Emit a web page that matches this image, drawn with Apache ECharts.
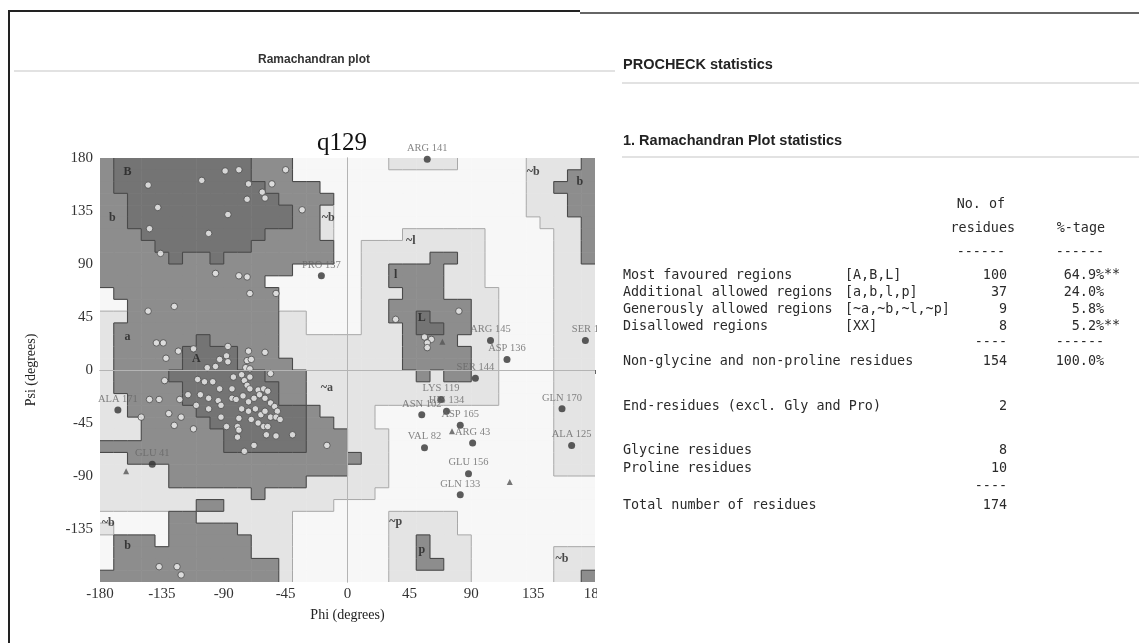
<!DOCTYPE html>
<html>
<head>
<meta charset="utf-8">
<script src="https://cdn.jsdelivr.net/npm/echarts@6/dist/echarts.min.js"></script>
<style>
  html, body { margin: 0; padding: 0; background: #fff; }
  #plot { position: absolute; left: 0; top: 0; width: 597px; height: 643px; }
  #stats { position: absolute; left: 597px; top: 0; width: 542px; height: 643px; }
</style>
</head>
<body>
<div id="plot"></div>
<div id="stats"></div>
<script>
// region map, 10 degree cells, psi 180 -> -180 (rows), phi -180 -> 180 (cols)
// 0 disallowed, 1 generously allowed, 2 additional allowed, 3 most favoured
const regionRows = [
  '233333333332220000000111110000011112',
  '233333333332220000000000000000011122',
  '233333333333222200000000000000011222',
  '223333333333322220000000000000011122',
  '223333333333332210000000000000011122',
  '223333333333332210000000000000001112',
  '222333333333222210000011111100000112',
  '222233333332222220011111111100000112',
  '222223223222222220011111221100000112',
  '222222222222220000011222211100000111',
  '222222222222000000011222211100000111',
  '022222222222200000011122211110000111',
  '002222222222200000011222222110000111',
  '112222222222211000011223222110000111',
  '122222222222211000011123322110000111',
  '122222232222211111111122221110000111',
  '122222333322211111111122222110000111',
  '122222333322221111111122222110000111',
  '122223333333222111111112122110000111',
  '122222333333322111111111111110000111',
  '112222333333322111111111111110000111',
  '112222233333333211110000000000000111',
  '111222223333333221110000000000000111',
  '111222222333333222111000000000000111',
  '222222222333333222111000000000000111',
  '112222222222222222211000000000000111',
  '111112222222222222111000000000000111',
  '111112222222222111111000000000000000',
  '111111111112111111110000000000000000',
  '111111122111111110000000000000000000',
  '000002211111110000000111110000000000',
  '100002222211110000000111110000000000',
  '022202222221110000000112111000000000',
  '022222222221110000000112111000000111',
  '022222222222210000000112211000000111',
  '222222222222210000000111111000000112'
];

// residues in favoured / allowed regions [phi, psi]
const betaPts = [
  [-145, 157], [-106, 161], [-89, 169], [-79, 170], [-72, 158], [-62, 151], [-60, 146],
  [-73, 145], [-55, 158], [-45, 170], [-138, 138], [-87, 132], [-144, 120], [-101, 116],
  [-136, 99], [-33, 136], [-96, 82], [-79, 80], [-73, 79], [-71, 65], [-52, 65],
  [-126, 54], [-145, 50], [-137, -167], [-124, -167], [-121, -174]
];
const alphaPts = [
  [-139, 23], [-134, 23], [-123, 16], [-132, 10], [-87, 20], [-112, 18], [-72, 16], [-60, 15],
  [-88, 12], [-93, 9], [-87, 7], [-73, 8], [-70, 9], [-102, 2], [-96, 3], [-74, 2], [-71, 1],
  [-133, -9], [-83, -6], [-77, -4], [-71, -6], [-109, -8], [-104, -10], [-98, -10], [-93, -16],
  [-84, -16], [-75, -9], [-73, -13], [-71, -16], [-65, -17], [-61, -16], [-58, -18], [-116, -21],
  [-107, -21], [-144, -25], [-137, -25], [-122, -25], [-101, -24], [-94, -26], [-92, -30],
  [-84, -24], [-81, -25], [-76, -22], [-72, -27], [-68, -24], [-64, -21], [-60, -24], [-56, -28],
  [-53, -31], [-51, -35], [-110, -30], [-101, -33], [-77, -33], [-72, -35], [-67, -33], [-63, -38],
  [-60, -35], [-56, -40], [-52, -40], [-49, -42], [-130, -37], [-121, -40], [-150, -40], [-92, -40],
  [-79, -41], [-70, -42], [-65, -45], [-61, -48], [-58, -48], [-126, -47], [-112, -50], [-88, -48],
  [-80, -48], [-79, -51], [-59, -55], [-52, -56], [-40, -55], [-80, -57], [-68, -64], [-75, -69],
  [-15, -64], [-56, -3]
];
const leftPts = [[35, 43], [81, 50], [56, 28], [61, 26], [58, 23], [58, 19]];

// labelled residues outside the core regions
const outlierNames = ['ARG 141', 'PRO 137', 'ARG 145', 'ASP 136', 'SER 1', 'SER 144', 'LYS 119',
  'ASN 102', 'HIS 134', 'ASP 165', 'ARG 43', 'VAL 82', 'GLU 156', 'GLN 133', 'GLN 170',
  'ALA 125', 'ALA 171', 'GLU 41'];
const outlierPhi = [58, -19, 104, 116, 173, 93, 68, 54, 72, 82, 91, 56, 88, 82, 156, 163, -167, -142];
const outlierPsi = [179, 80, 25, 9, 25, -7, -25, -38, -35, -47, -62, -66, -88, -106, -33, -64, -34, -80];

// glycines (triangles)
const glyPhi = [-161, 118, 69, 76];
const glyPsi = [-86, -95, 24, -52];

// region letters
const zoneNames = ['B', 'b', 'a', 'A', 'L', 'l', '~l', '~b', 'b', '~b', '~a', '~b', 'b', '~p', 'p', '~b'];
const zonePhi = [-160, -171, -160, -110, 54, 35, 46, 135, 169, -14, -15, -174, -160, 35, 54, 156];
const zonePsi = [168, 129, 28, 9, 44, 81, 110, 168, 160, 129, -15, -130, -149, -129, -153, -160];

// PROCHECK statistics
const statLabels = ['Most favoured regions', 'Additional allowed regions', 'Generously allowed regions', 'Disallowed regions'];
const statCodes = ['[A,B,L]', '[a,b,l,p]', '[~a,~b,~l,~p]', '[XX]'];
const statCounts = [100, 37, 9, 8];
const statFlags = ['**', '', '', '**'];
const otherLabels = ['End-residues (excl. Gly and Pro)', 'Glycine residues', 'Proline residues'];
const otherCounts = [2, 8, 10];

const shades = ['#f7f7f7', '#e4e4e4', '#8d8d8d', '#747474'];
const serif = 'Liberation Serif';

const level = (i, j) => +regionRows[i][j];
const cells = [];
regionRows.forEach((row, i) => {
  for (let j = 0; j < 36; j++) cells.push([-180 + 10 * j, 180 - 10 * i, +row[j]]);
});

// boundary line colour: dark round the grey regions, faint between the two light shades
const edgeStyle = (a, b) => (Math.max(a, b) >= 2)
  ? { stroke: '#4a4a4a', lineWidth: 1.1 }
  : { stroke: '#a8a8a8', lineWidth: 1 };

const plot = echarts.init(document.getElementById('plot'));
plot.setOption({
  animation: false,
  grid: { left: 100, right: 2, top: 158, bottom: 61, outerBoundsMode: 'none', containLabel: false },
  xAxis: {
    type: 'value', min: -180, max: 180, interval: 45,
    name: 'Phi (degrees)', nameLocation: 'middle', nameGap: 26,
    nameTextStyle: { fontFamily: serif, fontSize: 14, color: '#222' },
    axisLine: { show: true, lineStyle: { color: '#888' } },
    axisTick: { show: true, length: 4, lineStyle: { color: '#666' } },
    axisLabel: { fontFamily: serif, fontSize: 15, color: '#333', margin: 5, hideOverlap: false },
    splitLine: { show: false }
  },
  yAxis: {
    type: 'value', min: -180, max: 180, interval: 45,
    name: 'Psi (degrees)', nameLocation: 'middle', nameGap: 62,
    nameTextStyle: { fontFamily: serif, fontSize: 14, color: '#222' },
    axisLine: { show: true, lineStyle: { color: '#888' } },
    axisTick: { show: true, length: 5, lineStyle: { color: '#666' } },
    axisLabel: { fontFamily: serif, fontSize: 15, color: '#333', margin: 7, showMinLabel: false },
    splitLine: { show: false }
  },
  graphic: [
    { type: 'line', shape: { x1: 8, y1: 11, x2: 580, y2: 11 }, style: { stroke: '#222', lineWidth: 2 } },
    { type: 'line', shape: { x1: 580, y1: 13, x2: 597, y2: 13 }, style: { stroke: '#333', lineWidth: 1.5 } },
    { type: 'line', shape: { x1: 9, y1: 11, x2: 9, y2: 643 }, style: { stroke: '#222', lineWidth: 2 } },
    { type: 'line', shape: { x1: 14, y1: 71, x2: 597, y2: 71 }, style: { stroke: '#e2e2e2', lineWidth: 2 } },
    { type: 'text', x: 314, y: 60, style: { text: 'Ramachandran plot', fontFamily: 'Liberation Sans', fontWeight: 'bold', fontSize: 12, fill: '#333', align: 'center', verticalAlign: 'middle' } },
    { type: 'text', x: 342, y: 143, style: { text: 'q129', fontFamily: serif, fontSize: 25, fill: '#111', align: 'center', verticalAlign: 'middle' } }
  ],
  series: [
    {
      type: 'custom',
      data: cells,
      encode: { x: 0, y: 1 },
      clip: true,
      silent: true,
      renderItem: (params, api) => {
        const idx = params.dataIndex;
        const i = Math.floor(idx / 36), j = idx % 36;
        const lv = api.value(2);
        const p0 = api.coord([api.value(0), api.value(1)]);
        const p1 = api.coord([api.value(0) + 10, api.value(1) - 10]);
        const kids = [{
          type: 'rect',
          shape: { x: p0[0], y: p0[1], width: p1[0] - p0[0] + 0.6, height: p1[1] - p0[1] + 0.6 },
          style: { fill: shades[lv] }
        }];
        if (j < 35 && level(i, j + 1) !== lv) {
          kids.push({ type: 'line', shape: { x1: p1[0], y1: p0[1], x2: p1[0], y2: p1[1] }, style: edgeStyle(lv, level(i, j + 1)), z2: 5 });
        }
        if (i < 35 && level(i + 1, j) !== lv) {
          kids.push({ type: 'line', shape: { x1: p0[0], y1: p1[1], x2: p1[0], y2: p1[1] }, style: edgeStyle(lv, level(i + 1, j)), z2: 5 });
        }
        return { type: 'group', children: kids };
      },
      markLine: {
        silent: true, symbol: 'none', label: { show: false },
        lineStyle: { color: '#b4b4b4', width: 1, type: 'solid' },
        data: [{ xAxis: 0 }, { yAxis: 0 }]
      }
    },
    {
      type: 'scatter', z: 4,
      data: betaPts.concat(alphaPts, leftPts),
      symbolSize: 6.5,
      itemStyle: { color: '#f0f0f0', borderColor: '#4a4a4a', borderWidth: 1 }
    },
    {
      type: 'scatter', z: 5,
      data: outlierNames.map((n, k) => ({ name: n, value: [outlierPhi[k], outlierPsi[k]] })),
      symbolSize: 7,
      itemStyle: { color: '#333' },
      label: {
        show: true, position: 'top', distance: 2, formatter: '{b}',
        fontFamily: serif, fontSize: 10.5, color: '#666'
      }
    },
    {
      type: 'scatter', z: 5,
      data: glyPhi.map((p, k) => [p, glyPsi[k]]),
      symbol: 'triangle', symbolSize: 6,
      itemStyle: { color: '#555' }
    },
    {
      type: 'scatter', z: 6,
      data: zoneNames.map((n, k) => ({ name: n, value: [zonePhi[k], zonePsi[k]] })),
      symbolSize: 0,
      label: {
        show: true, position: 'inside', formatter: '{b}',
        fontFamily: serif, fontWeight: 'bold', fontSize: 12, color: '#222'
      }
    }
  ]
});

// statistics panel
const stats = echarts.init(document.getElementById('stats'));
const mono = 'DejaVu Sans Mono';
const txt = (x, y, s, align, extra) => ({
  type: 'text', x: x, y: y,
  style: Object.assign({ text: s, fontFamily: mono, fontSize: 13.4, fill: '#2a2a2a', align: align || 'left', verticalAlign: 'middle' }, extra || {})
});
const head = { fontFamily: 'Liberation Sans', fontWeight: 'bold', fontSize: 14.5, fill: '#222' };
const labelX = 26, codeX = 248, countR = 410, pctR = 507;
const nonGly = statCounts.reduce((a, b) => a + b, 0);
const total = nonGly + otherCounts.reduce((a, b) => a + b, 0);
const g = [
  { type: 'line', shape: { x1: 0, y1: 13, x2: 542, y2: 13 }, style: { stroke: '#333', lineWidth: 1.5 } },
  { type: 'line', shape: { x1: 0, y1: 71, x2: 18, y2: 71 }, style: { stroke: '#e2e2e2', lineWidth: 2 } },
  { type: 'line', shape: { x1: 25, y1: 83, x2: 542, y2: 83 }, style: { stroke: '#e2e2e2', lineWidth: 2 } },
  { type: 'line', shape: { x1: 25, y1: 157, x2: 542, y2: 157 }, style: { stroke: '#e2e2e2', lineWidth: 2 } },
  txt(labelX, 65, 'PROCHECK statistics', 'left', head),
  txt(labelX, 141, '1. Ramachandran Plot statistics', 'left', head),
  txt(408, 205, 'No. of', 'right'),
  txt(418, 229, 'residues', 'right'),
  txt(508, 229, '%-tage', 'right'),
  txt(408, 253, '------', 'right'),
  txt(507, 253, '------', 'right')
];
statLabels.forEach((s, k) => {
  const y = 276 + 17 * k;
  g.push(txt(labelX, y, s));
  g.push(txt(codeX, y, statCodes[k]));
  g.push(txt(countR, y, String(statCounts[k]), 'right'));
  g.push(txt(pctR, y, (100 * statCounts[k] / nonGly).toFixed(1) + '%', 'right'));
  if (statFlags[k]) g.push(txt(pctR, y - 1, statFlags[k]));
});
g.push(txt(countR, 343, '----', 'right'));
g.push(txt(pctR, 343, '------', 'right'));
g.push(txt(labelX, 362, 'Non-glycine and non-proline residues'));
g.push(txt(countR, 362, String(nonGly), 'right'));
g.push(txt(pctR, 362, '100.0%', 'right'));
const otherY = [407, 451, 469];
otherLabels.forEach((s, k) => {
  g.push(txt(labelX, otherY[k], s));
  g.push(txt(countR, otherY[k], String(otherCounts[k]), 'right'));
});
g.push(txt(countR, 487, '----', 'right'));
g.push(txt(labelX, 506, 'Total number of residues'));
g.push(txt(countR, 506, String(total), 'right'));
stats.setOption({ animation: false, graphic: g });
</script>
</body>
</html>
